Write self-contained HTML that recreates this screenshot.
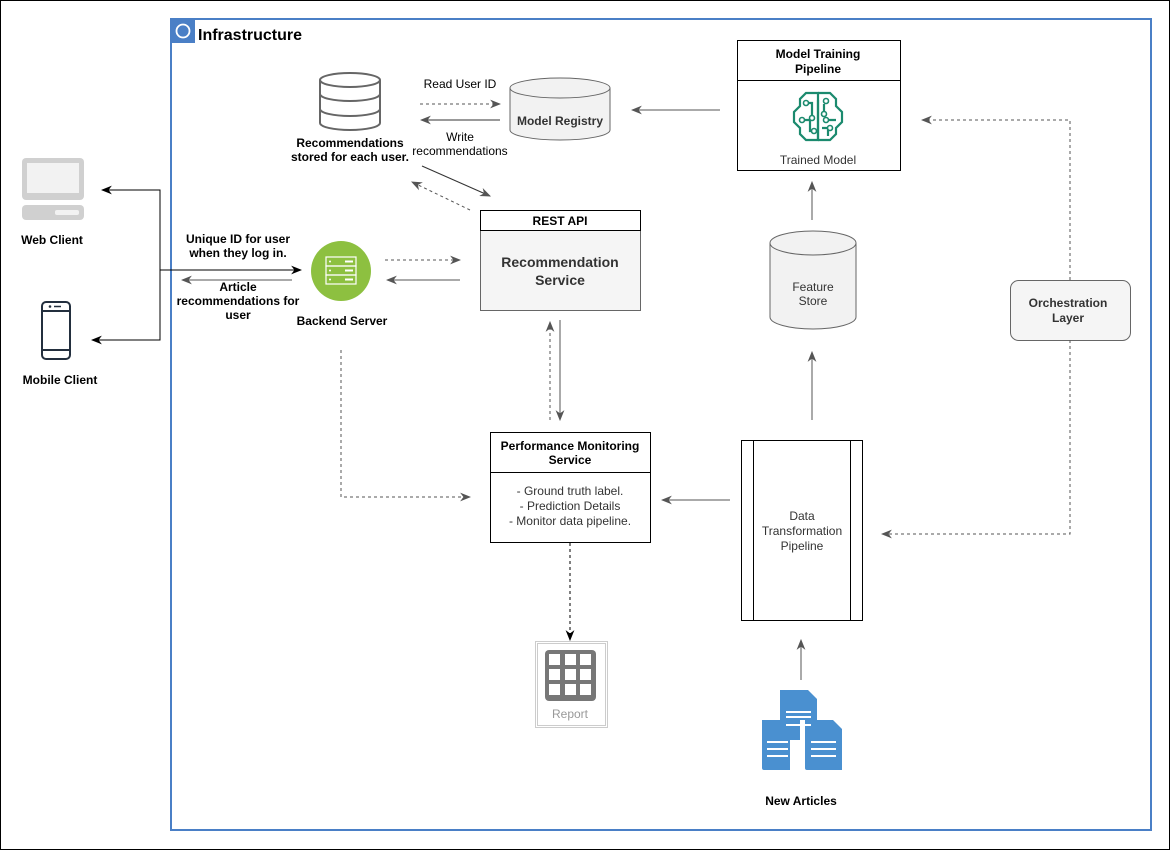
<!DOCTYPE html>
<html><head><meta charset="utf-8"><style>
html,body{margin:0;padding:0;background:#fff}
svg{display:block}
text{font-family:"Liberation Sans",Arial,sans-serif}
.b{font-weight:bold}
</style></head><body>
<svg width="1171" height="851" viewBox="0 0 1171 851" xmlns="http://www.w3.org/2000/svg">
<defs>
<marker id="ag" viewBox="0 0 10 10" refX="9" refY="5" markerWidth="11" markerHeight="11" orient="auto" markerUnits="userSpaceOnUse"><path d="M0,1 L10,5 L0,9 L3,5 Z" fill="#555"/></marker>
<marker id="ak" viewBox="0 0 10 10" refX="9" refY="5" markerWidth="11" markerHeight="11" orient="auto" markerUnits="userSpaceOnUse"><path d="M0,1 L10,5 L0,9 L3,5 Z" fill="#000"/></marker>
</defs>
<rect x="0.5" y="0.5" width="1169" height="849" fill="#fff" stroke="#000"/>
<rect x="171" y="19" width="980" height="811" fill="#fff" stroke="#4a7fc6" stroke-width="2"/>
<rect x="171" y="19" width="24" height="24" fill="#4a7fc6"/>
<circle cx="183" cy="31" r="6.5" fill="none" stroke="#fff" stroke-width="1.8"/>
<text x="198" y="40" class="b" font-size="16">Infrastructure</text>

<rect x="22" y="158" width="62" height="42" rx="4" fill="#d0d0d0"/>
<rect x="27" y="163" width="52" height="30" fill="#f2f2f2"/>
<rect x="22" y="205" width="62" height="15" rx="4" fill="#d0d0d0"/>
<rect x="55" y="210" width="24" height="5" rx="2" fill="#f2f2f2"/>
<text x="52" y="244" class="b" font-size="12" text-anchor="middle">Web Client</text>
<rect x="42" y="302" width="28" height="57" rx="4" fill="#fff" stroke="#232f3e" stroke-width="2"/>
<line x1="42" y1="311" x2="70" y2="311" stroke="#232f3e" stroke-width="2"/>
<line x1="42" y1="350" x2="70" y2="350" stroke="#232f3e" stroke-width="2"/>
<circle cx="50" cy="306.5" r="1.3" fill="#232f3e"/><line x1="54" y1="306.5" x2="61" y2="306.5" stroke="#232f3e" stroke-width="1.5"/>
<text x="60" y="384" class="b" font-size="12" text-anchor="middle">Mobile Client</text>
<polyline points="102,190 160,190 160,340 92,340" fill="none" stroke="#000"/>
<line x1="160" y1="190" x2="102" y2="190" stroke="#000" marker-end="url(#ak)"/>
<line x1="160" y1="340" x2="92" y2="340" stroke="#000" marker-end="url(#ak)"/>
<line x1="160" y1="270" x2="301" y2="270" stroke="#000" marker-end="url(#ak)"/>
<line x1="292" y1="280" x2="182" y2="280" stroke="#555" marker-end="url(#ag)"/>
<text x="238" y="243" class="b" font-size="12" text-anchor="middle">Unique ID for user</text>
<text x="238" y="257" class="b" font-size="12" text-anchor="middle">when they log in.</text>
<text x="238" y="291" class="b" font-size="12" text-anchor="middle">Article</text>
<text x="238" y="305" class="b" font-size="12" text-anchor="middle">recommendations for</text>
<text x="238" y="319" class="b" font-size="12" text-anchor="middle">user</text>

<circle cx="341" cy="271" r="30" fill="#8dc040"/>
<g fill="none" stroke="#fff" stroke-width="1.2">
<rect x="326" y="257" width="30" height="9"/><rect x="326" y="266" width="30" height="9"/><rect x="326" y="275" width="30" height="9"/>
</g>
<g fill="#fff"><circle cx="330" cy="261.5" r="1"/><circle cx="330" cy="270.5" r="1"/><circle cx="330" cy="279.5" r="1"/>
<rect x="345" y="260.5" width="8" height="2"/><rect x="345" y="269.5" width="8" height="2"/><rect x="345" y="278.5" width="8" height="2"/></g>
<text x="342" y="325" class="b" font-size="12" text-anchor="middle">Backend Server</text>
<line x1="385" y1="260" x2="460" y2="260" stroke="#555" stroke-dasharray="3,3" marker-end="url(#ag)"/>
<line x1="460" y1="280" x2="387" y2="280" stroke="#555" marker-end="url(#ag)"/>
<polyline points="341,350 341,497 470,497" fill="none" stroke="#555" stroke-dasharray="3,3" marker-end="url(#ag)"/>

<g fill="none" stroke="#666" stroke-width="2">
<ellipse cx="350" cy="80" rx="30" ry="7"/>
<path d="M320,80 V123 A30,7 0 0 0 380,123 V80"/>
<path d="M320,94 A30,7 0 0 0 380,94"/>
<path d="M320,109 A30,7 0 0 0 380,109"/>
</g>
<text x="350" y="147" class="b" font-size="12" text-anchor="middle">Recommendations</text>
<text x="350" y="161" class="b" font-size="12" text-anchor="middle">stored for each user.</text>

<path d="M510,88 V130 A50,10 0 0 0 610,130 V88" fill="#f2f2f2" stroke="#666"/>
<ellipse cx="560" cy="88" rx="50" ry="10" fill="#f2f2f2" stroke="#666"/>
<text x="560" y="125" class="b" font-size="12" text-anchor="middle" fill="#333">Model Registry</text>
<line x1="420" y1="104" x2="500" y2="104" stroke="#555" stroke-dasharray="3,3" marker-end="url(#ag)"/>
<line x1="500" y1="120" x2="421" y2="120" stroke="#333" marker-end="url(#ag)"/>
<text x="460" y="88" font-size="12" text-anchor="middle">Read User ID</text>
<text x="460" y="141" font-size="12" text-anchor="middle">Write</text>
<text x="460" y="155" font-size="12" text-anchor="middle">recommendations</text>
<line x1="720" y1="110" x2="632" y2="110" stroke="#555" marker-end="url(#ag)"/>

<line x1="422" y1="166" x2="490" y2="196" stroke="#333" marker-end="url(#ag)"/>
<line x1="470" y1="210" x2="412" y2="182" stroke="#555" stroke-dasharray="3,3" marker-end="url(#ag)"/>

<rect x="480.5" y="230.5" width="160" height="80" fill="#f5f5f5" stroke="#666"/>
<rect x="480.5" y="210.5" width="160" height="20" fill="#fff" stroke="#000"/>
<text x="560" y="225" class="b" font-size="12" text-anchor="middle">REST API</text>
<text x="560" y="267" class="b" font-size="14" text-anchor="middle" fill="#333">Recommendation</text>
<text x="560" y="285" class="b" font-size="14" text-anchor="middle" fill="#333">Service</text>
<line x1="560" y1="320" x2="560" y2="420" stroke="#555" marker-end="url(#ag)"/>
<line x1="550" y1="420" x2="550" y2="322" stroke="#555" stroke-dasharray="3,3" marker-end="url(#ag)"/>

<rect x="490.5" y="432.5" width="160" height="110" fill="#fff" stroke="#000"/>
<line x1="490" y1="472.5" x2="650" y2="472.5" stroke="#000"/>
<text x="570" y="450" class="b" font-size="12" text-anchor="middle">Performance Monitoring</text>
<text x="570" y="464" class="b" font-size="12" text-anchor="middle">Service</text>
<text x="570" y="495" font-size="12" text-anchor="middle" fill="#333">- Ground truth label.</text>
<text x="570" y="510" font-size="12" text-anchor="middle" fill="#333">- Prediction Details</text>
<text x="570" y="525" font-size="12" text-anchor="middle" fill="#333">- Monitor data pipeline.</text>
<line x1="570" y1="543" x2="570" y2="640" stroke="#000" stroke-dasharray="3,3" marker-end="url(#ak)"/>

<rect x="535.5" y="641.5" width="72" height="86" fill="#fff" stroke="#ccc"/>
<rect x="537.5" y="643.5" width="68" height="82" fill="none" stroke="#ccc"/>
<rect x="545" y="650" width="51" height="51" rx="4" fill="#777"/>
<g fill="#fff">
<rect x="549" y="654" width="11" height="11"/><rect x="565" y="654" width="11" height="11"/><rect x="580" y="654" width="11" height="11"/>
<rect x="549" y="669" width="11" height="11"/><rect x="565" y="669" width="11" height="11"/><rect x="580" y="669" width="11" height="11"/>
<rect x="549" y="684" width="11" height="11"/><rect x="565" y="684" width="11" height="11"/><rect x="580" y="684" width="11" height="11"/>
</g>
<text x="570" y="718" font-size="12" text-anchor="middle" fill="#999">Report</text>

<rect x="737.5" y="40.5" width="163" height="130" fill="#fff" stroke="#000"/>
<line x1="737" y1="80.5" x2="900" y2="80.5" stroke="#000"/>
<text x="818" y="58" class="b" font-size="12" text-anchor="middle">Model Training</text>
<text x="818" y="73" class="b" font-size="12" text-anchor="middle">Pipeline</text>
<g fill="none" stroke="#1b8a6e" stroke-width="2.2">
<path d="M818,93 L806,93 L800,99 L800,106 L794,112 L794,122 L800,128 L800,134 L806,140 L818,140 Z"/>
<path d="M818,93 L830,93 L836,99 L836,106 L842,112 L842,122 L836,128 L836,134 L830,140 L818,140"/>
<path d="M818,100 V140 M806,103 H812 V118 M802,120 H810 V131 H814 M824,104 V114 M828,120 H836 M822,128 H828 V136"/>
</g>
<g fill="#fff" stroke="#1b8a6e" stroke-width="1.6">
<circle cx="806" cy="103" r="2.5"/><circle cx="812" cy="118" r="2.5"/><circle cx="802" cy="120" r="2.5"/><circle cx="814" cy="131" r="2.5"/>
<circle cx="826" cy="101" r="2.5"/><circle cx="824" cy="114" r="2.5"/><circle cx="826" cy="120" r="2.5"/><circle cx="830" cy="128" r="2.5"/>
</g>
<text x="818" y="164" font-size="12" text-anchor="middle" fill="#333">Trained Model</text>
<line x1="812" y1="220" x2="812" y2="182" stroke="#555" marker-end="url(#ag)"/>

<path d="M770,243 V317 A43,12 0 0 0 856,317 V243" fill="#f2f2f2" stroke="#666"/>
<ellipse cx="813" cy="243" rx="43" ry="12" fill="#f2f2f2" stroke="#666"/>
<text x="813" y="291" font-size="12" text-anchor="middle" fill="#333">Feature</text>
<text x="813" y="305" font-size="12" text-anchor="middle" fill="#333">Store</text>
<line x1="812" y1="420" x2="812" y2="352" stroke="#555" marker-end="url(#ag)"/>

<rect x="741.5" y="440.5" width="121" height="180" fill="#fff" stroke="#000"/>
<line x1="753.5" y1="440" x2="753.5" y2="620" stroke="#000"/>
<line x1="850.5" y1="440" x2="850.5" y2="620" stroke="#000"/>
<text x="802" y="520" font-size="12" text-anchor="middle" fill="#333">Data</text>
<text x="802" y="535" font-size="12" text-anchor="middle" fill="#333">Transformation</text>
<text x="802" y="550" font-size="12" text-anchor="middle" fill="#333">Pipeline</text>
<line x1="730" y1="500" x2="662" y2="500" stroke="#555" marker-end="url(#ag)"/>
<line x1="801" y1="680" x2="801" y2="640" stroke="#555" marker-end="url(#ag)"/>

<g fill="#4a90d0">
<path d="M780,690 H808 L817,699 V720 H800 V740 H780 Z"/>
<path d="M762,720 H790 V770 H764 Q762,770 762,768 Z"/>
<path d="M805,720 H833 L842,729 V770 H807 Q805,770 805,768 Z"/>
</g>
<g stroke="#fff" stroke-width="2">
<line x1="786" y1="712" x2="811" y2="712"/><line x1="786" y1="717" x2="811" y2="717"/><line x1="786" y1="725" x2="811" y2="725"/>
<line x1="767" y1="742" x2="788" y2="742"/><line x1="767" y1="749" x2="788" y2="749"/><line x1="767" y1="756" x2="788" y2="756"/>
<line x1="811" y1="742" x2="836" y2="742"/><line x1="811" y1="749" x2="836" y2="749"/><line x1="811" y1="756" x2="836" y2="756"/>
</g>
<text x="801" y="805" class="b" font-size="12" text-anchor="middle">New Articles</text>

<rect x="1010.5" y="280.5" width="120" height="60" rx="8" fill="#f5f5f5" stroke="#666"/>
<text x="1068" y="307" class="b" font-size="12" text-anchor="middle" fill="#333">Orchestration</text>
<text x="1068" y="322" class="b" font-size="12" text-anchor="middle" fill="#333">Layer</text>
<polyline points="1070,280 1070,120 922,120" fill="none" stroke="#555" stroke-dasharray="3,3" marker-end="url(#ag)"/>
<polyline points="1070,340 1070,534 882,534" fill="none" stroke="#555" stroke-dasharray="3,3" marker-end="url(#ag)"/>
</svg>
</body></html>
